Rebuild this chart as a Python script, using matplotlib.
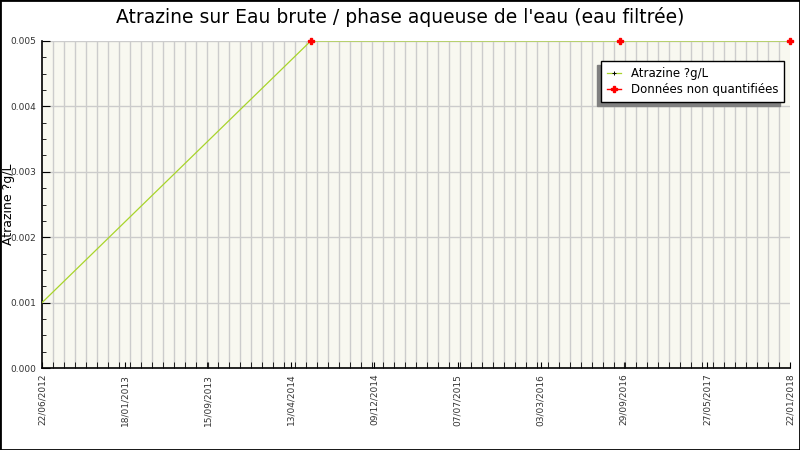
import numpy as np
import matplotlib.pyplot as plt
import matplotlib.dates as mdates
from matplotlib.patches import Rectangle
from matplotlib.lines import Line2D
from datetime import date

# measured values (last three are "non quantifiees")
dates = [date(2012, 6, 22), date(2014, 6, 25), date(2016, 10, 15), date(2018, 1, 22)]
values = [0.001, 0.005, 0.005, 0.005]
nq_dates = [date(2014, 6, 25), date(2016, 10, 15), date(2018, 1, 22)]
nq_values = [0.005, 0.005, 0.005]
tick_labels = ['22/06/2012', '18/01/2013', '15/09/2013', '13/04/2014', '09/12/2014',
               '07/07/2015', '03/03/2016', '29/09/2016', '27/05/2017', '22/01/2018']

start, end = date(2012, 6, 22), date(2018, 1, 22)

fig = plt.figure(figsize=(8, 4.5), dpi=100)
ax = fig.add_axes([0.0525, 0.182, 0.935, 0.727])
ax.set_facecolor('#f8f8f0')

x = mdates.date2num(dates)
ax.plot(x, values, color='#a8d42a', lw=0.9, zorder=3)
ax.plot(mdates.date2num(nq_dates), nq_values, color='red', marker='P', ms=4,
        ls='none', zorder=4, clip_on=False)

x0, x1 = mdates.date2num(start), mdates.date2num(end)
ax.set_xlim(x0, x1)
ax.set_ylim(0, 0.005)

# vertical grid every 30 days, labels spread evenly
minor = np.arange(x0, x1 + 1, 30)
ax.set_xticks(minor, minor=True)
ax.set_xticks(np.linspace(x0, x1, len(tick_labels)))
ax.set_xticklabels(tick_labels, rotation=90, fontsize=6.5, color='#333333')
ax.grid(True, which='minor', axis='x', color='#cccccc', lw=1)

ax.set_yticks(np.arange(0, 0.0051, 0.001))
ax.set_yticklabels(['%.3f' % v for v in np.arange(0, 0.0051, 0.001)], fontsize=6.5, color='#333333')
ax.set_yticks(np.arange(0, 0.0051, 0.00025), minor=True)
ax.grid(True, which='major', axis='y', color='#cccccc', lw=1)
ax.set_axisbelow(True)

ax.tick_params(axis='both', which='both', direction='in', color='black')
ax.tick_params(axis='y', which='major', length=6, pad=4)
ax.tick_params(axis='y', which='minor', length=3)
ax.tick_params(axis='x', which='both', length=4, pad=4)

for s in ['top', 'right']:
    ax.spines[s].set_visible(False)
for s in ['left', 'bottom']:
    ax.spines[s].set_linewidth(1.2)

ax.set_ylabel('Atrazine ?g/L', fontsize=9)
ax.yaxis.set_label_coords(-0.036, 0.5)
fig.suptitle("Atrazine sur Eau brute / phase aqueuse de l'eau (eau filtrée)",
             fontsize=13.5, y=0.985)

handles = [Line2D([], [], color='#a8d42a', lw=0.9, marker='+', ms=3, mec='black', mew=0.7),
           Line2D([], [], color='red', lw=1, marker='P', ms=4)]
leg = ax.legend(handles, ['Atrazine ?g/L', 'Données non quantifiées'],
                loc='upper right', bbox_to_anchor=(0.992, 0.939), fontsize=8.5,
                frameon=True, fancybox=False, shadow=False, framealpha=1,
                handlelength=1.2, borderpad=0.5, labelspacing=0.3, borderaxespad=0)
leg.get_frame().set_edgecolor('black')
leg.get_frame().set_facecolor('white')
leg.set_zorder(10)

# drop shadow down-left of the legend box
fig.canvas.draw()
bb = leg.get_window_extent().transformed(fig.transFigure.inverted())
dx, dy = 4 / 800, 4 / 450
ax.add_artist(Rectangle((bb.x0 - dx, bb.y0 - dy), bb.width, bb.height,
                        transform=fig.transFigure, color='#808080', zorder=9,
                        clip_on=False))

fig.patches.append(Rectangle((0, 0), 1, 1, transform=fig.transFigure, fill=False,
                             edgecolor='black', lw=2))

fig.savefig('out.png', dpi=100)
